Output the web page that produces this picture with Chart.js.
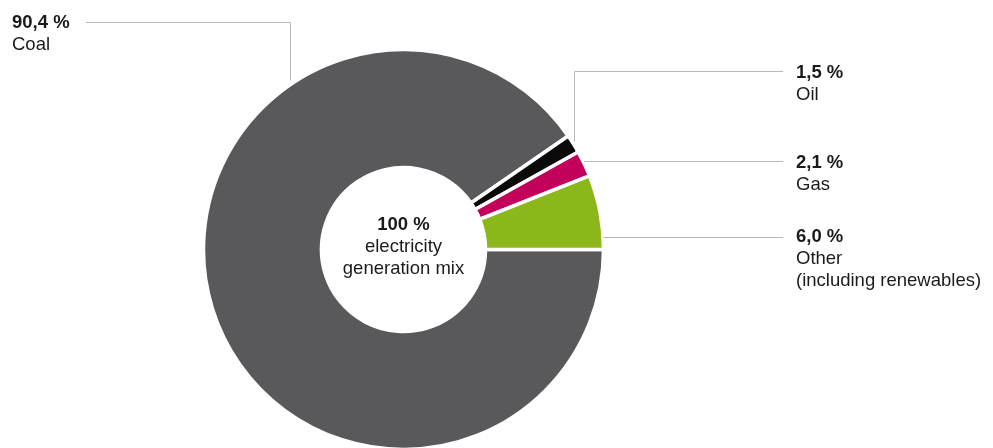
<!DOCTYPE html>
<html>
<head>
<meta charset="utf-8">
<script src="https://cdn.jsdelivr.net/npm/chart.js@4.4.1/dist/chart.umd.min.js"></script>
<style>
  html, body { margin: 0; padding: 0; background: #fff; overflow: hidden; }
  #wrap { position: relative; width: 993px; height: 448px; }
</style>
</head>
<body>
<div id="wrap"><canvas id="mixChart" width="993" height="448"></canvas></div>
<script>
// data
const categories = ['Coal', 'Oil', 'Gas', 'Other'];
const extraLines = [[], [], [], ['(including renewables)']];
const shares = [90.4, 1.5, 2.1, 6.0];
const colors = ['#59595b', '#0a0a0a', '#c3005a', '#8cb71b'];
const centerLines = ['100 %', 'electricity', 'generation mix'];

const FONT = 'Helvetica, Arial, "Liberation Sans", sans-serif';
const TEXT = '#1b1b1b';
const LINE = '#b9b9b9';

// where the labels sit and how the leader bends (layout only)
const labelLayout = [
    { tx: 12,  ty: 28,  lineY: 22,  from: 86,  elbowX: 290, gap: 6 },   // coal: left, then down
    { tx: 796, ty: 78,  lineY: 71,  from: 783, elbowX: 574, gap: 7 },   // oil: right, then down
    { tx: 796, ty: 168, lineY: 161, from: 783, gap: 3 },                 // gas: straight
    { tx: 796, ty: 242, lineY: 237, from: 783, gap: 1.5 }                // other: straight
];

function fmt(v) {
    return v.toFixed(1).replace('.', ',') + ' %';
}

const labelPlugin = {
    id: 'mixLabels',
    afterDraw(chart) {
        const ctx = chart.ctx;
        const arc = chart.getDatasetMeta(0).data[0];
        const cx = arc.x, cy = arc.y, R = arc.outerRadius - 1.5;

        ctx.save();
        ctx.strokeStyle = LINE;
        ctx.lineWidth = 1;
        labelLayout.forEach((l, i) => {
            ctx.beginPath();
            const y0 = Math.round(l.lineY) + 0.5;
            ctx.moveTo(l.from, y0);
            if (l.elbowX !== undefined) {
                const ex = Math.round(l.elbowX) + 0.5;
                const dy = Math.sqrt(R * R - (ex - cx) * (ex - cx));
                ctx.lineTo(ex, y0);
                ctx.lineTo(ex, cy - dy - l.gap);
            } else {
                const dx = Math.sqrt(R * R - (l.lineY - cy) * (l.lineY - cy));
                ctx.lineTo(cx + dx + l.gap, y0);
            }
            ctx.stroke();

            ctx.fillStyle = TEXT;
            ctx.textAlign = 'left';
            ctx.textBaseline = 'alphabetic';
            ctx.font = 'bold 18.5px ' + FONT;
            ctx.fillText(fmt(shares[i]), l.tx, l.ty);
            ctx.font = '18.5px ' + FONT;
            ctx.fillText(categories[i], l.tx, l.ty + 22);
            extraLines[i].forEach((t, k) => ctx.fillText(t, l.tx, l.ty + 44 + k * 22));
        });

        // centre text
        ctx.textAlign = 'center';
        ctx.font = 'bold 18.5px ' + FONT;
        ctx.fillText(centerLines[0], cx, cy - 20);
        ctx.font = '18.5px ' + FONT;
        ctx.fillText(centerLines[1], cx, cy + 2);
        ctx.fillText(centerLines[2], cx, cy + 24);
        ctx.restore();
    }
};

const ctx = document.getElementById('mixChart').getContext('2d');
const mixChart = new Chart(ctx, {
    type: 'doughnut',
    data: {
        labels: categories,
        datasets: [{
            data: shares,
            backgroundColor: colors,
            borderColor: '#ffffff',
            borderWidth: 3.5,
            borderJoinStyle: 'miter'
        }]
    },
    options: {
        responsive: false,
        animation: false,
        rotation: 90,
        radius: 200,
        cutout: '41%',
        layout: { padding: { left: 0, right: 186, top: 51, bottom: 0 } },
        plugins: {
            legend: { display: false },
            tooltip: { enabled: false }
        }
    },
    plugins: [labelPlugin]
});
</script>
</body>
</html>
